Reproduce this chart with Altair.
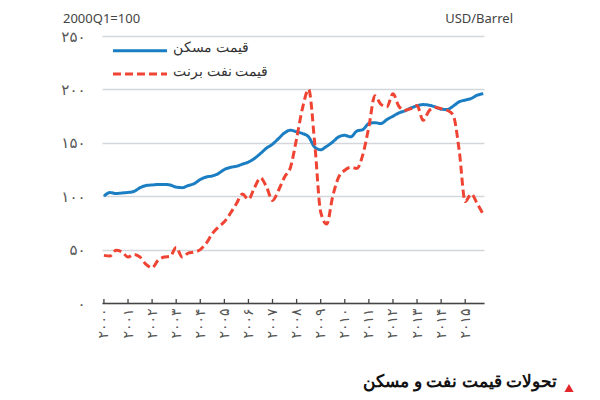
import altair as alt
import pandas as pd

# Quarterly data 2000Q1 .. 2015Q4
start_year = 2000
housing = [100, 103.4, 102.5, 103, 103.5, 104.5, 108, 110, 110.5, 111, 111, 110.5,
           108.5, 108, 110, 111.8, 115.6, 118, 119, 121.2, 125, 127, 128, 130,
           132, 135.3, 140, 145, 148.7, 154, 159.3, 161.8, 160.3, 158.7, 155.5, 146,
           143.5, 146.8, 150.8, 155.6, 157, 155.6, 161, 162.4, 168, 168.8, 168, 171.8,
           174.9, 178, 180, 182.7, 184.6, 185.8, 185.2, 183.7, 181.5, 181.2, 184.3, 188.4,
           190, 191.5, 194.6, 196]
brent = [44.6, 44, 49.3, 47.8, 43, 45.5, 43, 36.2, 33, 40, 43, 43.7,
         52, 43, 46.7, 47.7, 50, 56, 65, 71, 76, 84, 93, 102,
         97, 108, 117, 108.7, 96, 105.6, 118, 127.4, 154, 183, 200, 150,
         85, 74, 100, 118, 124.3, 127, 126, 139, 165, 194, 186, 183.7,
         196, 184, 180.5, 182, 185, 171, 180, 183, 182, 180.5, 176, 143,
         95, 102, 93, 83]
series_names = ["قیمت مسکن", "قیمت نفت برنت"]
series_colors = ["#1b7ec2", "#ef4433"]
year_ticks = list(range(2000, 2016))
y_ticks = [0, 50, 100, 150, 200, 250]

rows = []
for i, v in enumerate(housing):
    rows.append({"t": start_year + i / 4, "value": v, "series": series_names[0]})
for i, v in enumerate(brent):
    rows.append({"t": start_year + i / 4, "value": v, "series": series_names[1]})
df = pd.DataFrame(rows)
ticks_df = pd.DataFrame({"t": year_ticks})

fa_digits = "۰۱۲۳۴۵۶۷۸۹"


def fa_expr(e):
    for d in range(10):
        e = f"replace({e}, regexp('{d}', 'g'), '{fa_digits[d]}')"
    return e


FONT = "Noto Sans"
DIGIT_FONT = "DejaVu Sans"
W, H = 382, 267

xscale = alt.Scale(domain=[1999.92, 2015.78], nice=False, zero=False)
yscale = alt.Scale(domain=[0, 250], nice=False)
cscale = alt.Scale(domain=series_names, range=series_colors)
dscale = alt.Scale(domain=series_names, range=[[1, 0], [8, 4]])

xaxis = alt.Axis(values=year_ticks, title=None, grid=False, ticks=False,
                 labelAngle=270, labelPadding=5, labelFontSize=14,
                 labelColor="#555", labelFont=DIGIT_FONT,
                 labelExpr=fa_expr("''+datum.value"),
                 domainColor="#444", domainWidth=1.5,
                 labelOverlap=False, labelFlush=False)
yaxis = alt.Axis(values=y_ticks, title=None, domain=False, ticks=False,
                 labelPadding=17, labelFontSize=15, labelColor="#555",
                 labelFont=DIGIT_FONT, gridColor="#d3d7db", gridWidth=1.5,
                 labelExpr=fa_expr("''+datum.value"))

lines = alt.Chart(df).mark_line(strokeWidth=3, interpolate="monotone").encode(
    x=alt.X("t:Q", scale=xscale, axis=xaxis),
    y=alt.Y("value:Q", scale=yscale, axis=yaxis),
    color=alt.Color("series:N", scale=cscale, legend=None),
    strokeDash=alt.StrokeDash("series:N", scale=dscale, legend=None),
)

tick_marks = alt.Chart(ticks_df).mark_rule(color="#444", strokeWidth=1.3).encode(
    x=alt.X("t:Q", scale=xscale, axis=xaxis),
    y=alt.Y(datum=0, scale=yscale, axis=yaxis),
    y2=alt.datum(3.8),
)

# legend (drawn inside the plot, top-left)
legend_layers = []
for name, ypos in zip(series_names, [14.7, 38]):
    ldf = pd.DataFrame({"series": [name]})
    legend_layers.append(
        alt.Chart(ldf).mark_rule(strokeWidth=3, strokeCap="butt").encode(
            x=alt.value(11), x2=alt.value(65), y=alt.value(ypos),
            color=alt.Color("series:N", scale=cscale, legend=None),
            strokeDash=alt.StrokeDash("series:N", scale=dscale, legend=None),
        )
    )
    legend_layers.append(
        alt.Chart(ldf).mark_text(align="left", baseline="middle", fontSize=14,
                                 color="#333", font=FONT).encode(
            x=alt.value(71), y=alt.value(ypos - 2.5), text="series:N")
    )

top_left = alt.Chart(pd.DataFrame({"s": ["2000Q1=100"]})).mark_text(
    align="left", baseline="alphabetic", fontSize=13, color="#444", font=FONT
).encode(x=alt.value(-39), y=alt.value(-13), text="s:N")

top_right = alt.Chart(pd.DataFrame({"s": ["USD/Barrel"]})).mark_text(
    align="right", baseline="alphabetic", fontSize=13, color="#444", font=FONT
).encode(x=alt.value(411), y=alt.value(-13), text="s:N")

caption = alt.Chart(pd.DataFrame({"s": ["تحولات قیمت نفت و مسکن"]})).mark_text(
    align="right", baseline="bottom", fontSize=17, fontWeight="bold", color="#111", font=FONT
).encode(x=alt.value(455), y=alt.value(355), text="s:N")

tri = alt.Chart(pd.DataFrame({"s": ["▲"]})).mark_point(
    shape="triangle-up", filled=True, size=85, color="#e3262b", opacity=1
).encode(x=alt.value(467), y=alt.value(352))

chart = alt.layer(lines, tick_marks, *legend_layers, top_left, top_right, caption, tri).properties(
    width=W, height=H,
    autosize=alt.AutoSizeParams(type="none"),
    padding={"left": 94, "top": 28, "right": 108, "bottom": 89},
).configure_view(strokeWidth=0)

chart.save("out.html", embed_options={"renderer": "svg", "actions": False})
